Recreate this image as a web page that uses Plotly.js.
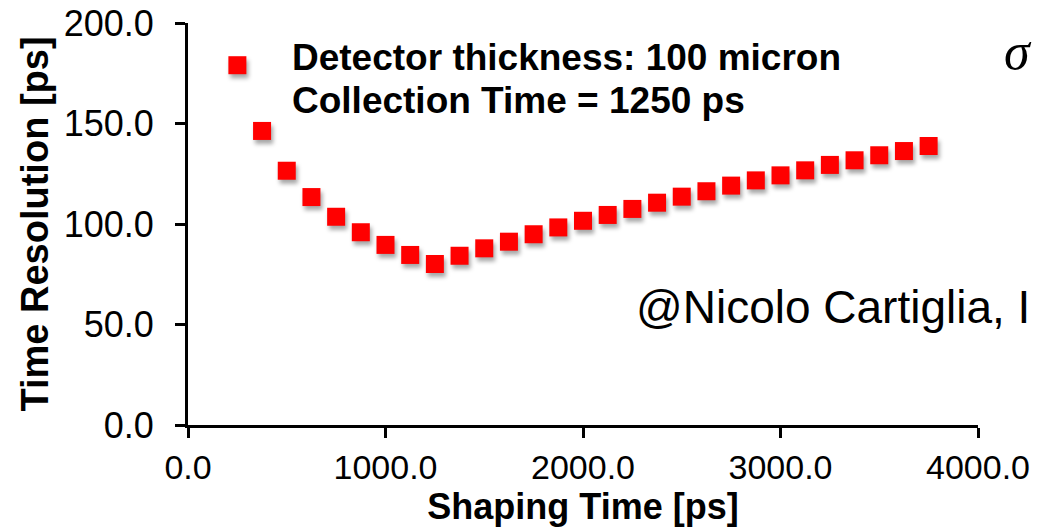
<!DOCTYPE html>
<html>
<head>
<meta charset="utf-8">
<script src="https://cdn.plot.ly/plotly-3.0.1.min.js"></script>
<style>
  html, body { margin: 0; padding: 0; background: #ffffff; }
  #chart { width: 1038px; height: 527px; }
  /* soft drop shadow under each square marker */
  .scatterlayer .point { filter: drop-shadow(2px 4px 2px rgba(0,0,0,0.35)); }
</style>
</head>
<body>
<div id="chart"></div>
<script>
// Shaping time [ps]
const shapingTime = [250, 375, 500, 625, 750, 875, 1000, 1125, 1250, 1375,
                     1500, 1625, 1750, 1875, 2000, 2125, 2250, 2375, 2500, 2625,
                     2750, 2875, 3000, 3125, 3250, 3375, 3500, 3625, 3750];
// Time resolution [ps]
const timeResolution = [179.0, 146.3, 126.5, 113.4, 103.6, 95.9, 89.6, 84.6, 80.1, 84.2,
                        87.9, 91.2, 94.9, 98.3, 101.6, 104.5, 107.5, 110.6, 113.6, 116.3,
                        119.1, 121.7, 124.2, 126.7, 129.4, 131.7, 134.2, 136.3, 138.8];

const xTicks = [0, 1000, 2000, 3000, 4000];
const yTicks = [0, 50, 100, 150, 200];

const font = 'Liberation Sans, Arial, Helvetica, sans-serif';

const trace = {
  x: shapingTime,
  y: timeResolution,
  type: 'scatter',
  mode: 'markers',
  marker: { symbol: 'square', size: 18, color: '#ff0000', line: { width: 0 } },
  cliponaxis: false,
  showlegend: false,
  hoverinfo: 'skip'
};

const axisCommon = {
  showline: true, linecolor: '#000000', linewidth: 3,
  ticks: 'outside', ticklen: 10, tickwidth: 3, tickcolor: '#000000',
  showgrid: false, zeroline: false, tickformat: '.1f',
  tickfont: { family: font, size: 34, color: '#000000' }
};

const layout = {
  width: 1038, height: 527,
  margin: { l: 188, r: 60, t: 23, b: 102 },
  paper_bgcolor: '#ffffff', plot_bgcolor: '#ffffff',
  showlegend: false,
  xaxis: Object.assign({}, axisCommon, {
    range: [0, 4000], tickvals: xTicks,
    title: { text: '<b>Shaping Time [ps]</b>', font: { family: font, size: 36, color: '#000000' }, standoff: 0 }
  }),
  yaxis: Object.assign({}, axisCommon, {
    range: [0, 200], tickvals: yTicks, ticklabelstandoff: 14,
    tickfont: { family: font, size: 36, color: '#000000' },
    title: { text: '<b>Time Resolution [ps]</b>', font: { family: font, size: 38, color: '#000000' }, standoff: 4 }
  }),
  annotations: [
    { xref: 'paper', yref: 'paper', x: 0.129, y: 0.915, xanchor: 'left', yanchor: 'middle',
      text: '<b>Detector thickness: 100 micron</b>', showarrow: false,
      font: { family: font, size: 37, color: '#000000' } },
    { xref: 'paper', yref: 'paper', x: 0.129, y: 0.806, xanchor: 'left', yanchor: 'middle',
      text: '<b>Collection Time = 1250 ps</b>', showarrow: false,
      font: { family: font, size: 37, color: '#000000' } },
    { xref: 'paper', yref: 'paper', x: 0.5646, y: 0.2935, xanchor: 'left', yanchor: 'middle',
      text: '@Nicolo Cartiglia, I', showarrow: false,
      font: { family: font, size: 46, color: '#000000' } },
    { xref: 'paper', yref: 'paper', x: 1.030, y: 0.93, xanchor: 'left', yanchor: 'middle',
      text: '<i>σ</i>', showarrow: false,
      font: { family: 'Liberation Serif, Times New Roman, serif', size: 52, color: '#000000' } }
  ]
};

Plotly.newPlot('chart', [trace], layout, { staticPlot: true, displayModeBar: false });
</script>
</body>
</html>
